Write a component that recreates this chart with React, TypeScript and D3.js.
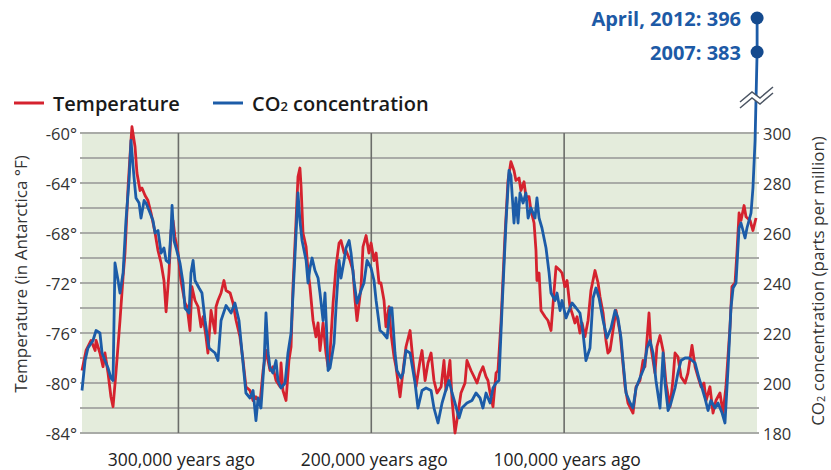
import React from "react";
import * as d3 from "d3";

// thousands of years ago, temperature (°F, Antarctica)
const tempKyr = [350.0,347.9,345.3,343.2,342.7,340.7,339.1,338.1,336.5,335.0,333.9,332.4,330.3,328.7,327.7,326.1,324.6,324.1,322.5,321.5,319.9,318.9,317.3,315.8,314.2,312.1,310.6,309.0,307.5,306.4,304.9,303.8,302.8,301.8,300.2,298.7,296.6,295.5,294.0,293.0,291.4,289.8,288.3,287.2,285.7,284.7,283.1,281.0,280.5,279.5,277.9,276.4,275.3,273.2,271.7,270.1,268.1,266.5,265.0,262.9,261.3,259.8,257.7,256.1,254.6,252.5,251.0,249.4,247.3,246.8,245.8,244.2,242.7,241.6,240.6,239.0,238.0,237.0,236.4,235.4,233.8,232.8,231.8,230.2,228.7,227.6,226.6,225.0,223.5,222.4,221.4,219.8,218.3,216.7,215.7,214.1,213.1,211.0,209.5,208.4,207.4,205.3,204.3,202.7,201.2,200.1,198.6,197.5,196.0,195.0,193.4,192.4,190.8,189.8,188.2,187.2,185.1,183.5,182.0,179.9,178.4,176.8,174.7,173.7,172.1,170.6,169.0,167.5,165.9,163.8,162.3,161.3,159.2,158.1,156.6,155.0,153.5,151.4,150.4,148.3,146.7,145.2,143.6,142.1,140.5,139.5,138.4,136.9,135.3,134.3,132.7,130.7,129.1,127.6,126.0,125.0,123.4,122.4,120.8,119.8,118.2,117.2,115.6,114.6,114.1,113.0,112.0,109.9,108.4,106.8,105.3,104.2,102.1,101.1,99.6,98.5,97.0,95.9,94.4,93.3,91.8,90.7,89.2,87.6,86.1,84.0,82.4,81.4,79.8,78.3,77.3,76.2,74.1,73.1,71.0,70.0,68.4,66.9,64.3,62.7,60.7,59.1,58.1,56.0,55.0,52.9,51.9,50.3,48.7,47.2,45.1,43.6,42.5,41.0,39.4,37.3,35.8,33.7,32.1,30.6,29.0,27.5,26.4,24.4,22.8,21.3,19.2,17.6,16.1,14.0,13.0,11.4,10.4,9.3,8.3,6.7,5.7,3.6,2.1,0.5];
const tempVal = [-79.0,-77.4,-76.6,-77.4,-76.6,-77.6,-78.7,-77.6,-79.2,-81.1,-81.9,-79.2,-75.0,-71.5,-69.6,-64.3,-60.6,-59.5,-61.1,-63.2,-64.6,-64.4,-65.0,-65.4,-66.4,-68.0,-69.4,-70.4,-71.8,-74.3,-71.2,-67.8,-67.0,-68.3,-69.6,-71.8,-73.6,-73.9,-75.8,-72.3,-73.4,-73.9,-75.5,-74.7,-76.3,-77.6,-74.2,-76.0,-73.9,-73.4,-72.8,-71.8,-72.6,-72.8,-73.6,-75.0,-76.3,-78.2,-80.3,-80.6,-81.4,-81.1,-81.6,-79.0,-77.4,-79.0,-78.7,-79.8,-80.3,-78.4,-80.6,-81.4,-78.2,-77.1,-72.3,-67.0,-63.5,-62.8,-64.3,-68.0,-69.1,-71.0,-72.3,-75.0,-76.3,-75.2,-77.4,-75.2,-77.6,-78.7,-77.6,-73.6,-70.7,-68.8,-68.6,-69.6,-69.4,-70.2,-71.0,-73.4,-75.0,-72.3,-69.1,-68.2,-69.6,-68.8,-70.2,-69.6,-72.0,-72.0,-73.4,-75.5,-73.9,-76.0,-77.9,-78.7,-81.1,-79.0,-77.1,-75.8,-78.2,-80.3,-78.2,-77.4,-79.8,-78.4,-77.6,-79.8,-80.8,-80.3,-78.2,-80.6,-78.2,-81.4,-84.0,-82.4,-80.8,-80.0,-78.2,-79.0,-79.5,-80.0,-79.2,-78.7,-79.5,-79.8,-80.8,-81.9,-79.2,-79.0,-75.0,-68.3,-63.8,-62.3,-63.0,-63.8,-63.6,-64.6,-63.9,-65.1,-65.1,-66.2,-67.2,-69.4,-71.8,-71.2,-74.2,-74.7,-75.0,-75.8,-72.8,-70.7,-71.0,-71.2,-72.3,-71.8,-73.9,-74.4,-75.2,-74.7,-76.0,-75.2,-76.3,-75.0,-72.6,-71.0,-72.0,-73.1,-74.4,-76.6,-77.6,-77.4,-75.2,-74.2,-76.0,-77.6,-80.3,-81.6,-82.4,-80.3,-79.8,-78.2,-78.7,-74.4,-77.1,-79.2,-77.1,-76.2,-77.4,-80.0,-81.9,-79.8,-77.6,-77.9,-79.5,-80.0,-79.2,-77.0,-78.7,-79.5,-80.3,-80.0,-81.4,-80.3,-82.4,-81.4,-80.8,-82.4,-80.3,-75.5,-72.3,-72.0,-69.6,-66.4,-67.0,-65.8,-66.7,-67.0,-67.8,-66.8];

// thousands of years ago, CO2 (ppm)
const co2Kyr = [350.0,348.4,346.9,344.3,342.7,340.7,339.6,338.1,336.5,335.0,333.9,332.9,331.3,330.3,328.7,327.2,325.6,324.6,323.0,322.0,320.4,319.4,317.8,316.8,314.7,313.2,312.1,310.6,309.0,307.5,306.4,304.9,303.8,303.3,302.3,301.2,299.2,297.6,296.6,294.5,293.5,292.4,291.4,289.3,287.8,286.2,284.1,282.6,281.0,279.5,277.9,275.3,272.7,270.7,268.6,267.0,265.0,262.9,261.3,259.8,258.7,257.2,255.6,254.6,253.5,252.5,251.0,249.4,248.4,246.8,244.7,243.2,241.6,239.5,238.0,237.0,235.9,233.8,232.8,231.8,230.7,229.2,227.6,226.6,225.0,224.0,223.0,222.4,221.4,219.3,218.3,216.7,215.7,214.1,213.1,211.5,210.5,209.0,207.4,205.3,203.8,202.2,200.1,198.6,197.5,195.5,193.9,191.8,190.3,189.3,187.7,186.7,184.6,183.5,182.0,179.9,177.3,175.8,173.7,171.6,169.0,167.5,165.4,163.3,161.8,159.7,158.1,156.6,154.5,153.0,150.4,147.8,145.7,143.6,142.1,140.5,139.5,138.4,136.9,135.3,133.8,132.2,130.1,128.6,127.6,126.0,125.0,123.9,122.9,121.3,119.8,118.7,117.2,115.1,114.1,113.0,111.5,109.4,107.8,106.8,104.7,103.7,102.1,101.1,99.0,97.5,95.9,93.8,91.8,90.2,88.7,86.6,85.0,83.5,81.9,79.8,77.8,75.7,73.6,72.1,70.5,69.5,67.9,65.8,64.3,62.7,60.7,58.6,57.0,55.5,53.9,52.4,50.3,48.7,47.7,46.1,44.6,42.5,41.0,39.4,37.3,35.3,33.7,32.1,30.1,28.5,27.0,25.4,23.9,21.8,20.2,18.1,16.6,15.0,13.5,12.4,10.9,9.3,8.3,6.2,5.2,3.1,2.1,1.0,-0.057,-0.062];
const co2Val = [197,209,214,217,221,220,212,209,206,202,201,248,241,236,244,265,281,297,282,274,272,266,273,272,268,265,260,261,252,254,249,248,262,271,257,254,248,240,230,228,244,249,241,238,236,225,214,213,212,209,225,231,228,232,225,212,196,194,197,185,194,190,208,228,212,206,204,209,201,198,200,212,220,252,276,265,257,249,240,246,250,245,242,236,225,236,218,205,206,216,230,249,242,249,254,257,252,241,232,237,240,249,246,241,233,221,220,218,230,230,212,205,202,204,213,212,200,190,197,198,197,190,184,192,196,201,196,192,186,190,192,193,196,194,190,196,194,192,198,200,201,230,265,285,283,264,274,264,276,272,276,266,270,266,274,266,262,254,244,236,233,236,229,233,226,229,232,230,228,220,209,214,234,238,234,225,218,222,229,226,218,209,196,192,190,198,202,206,214,217,212,201,190,212,200,189,192,198,204,209,210,210,209,208,202,198,194,189,193,190,192,188,184,206,230,238,240,262,264,258,262,268,278,297,383,396];

const tempTicks = [-60, -64, -68, -72, -76, -80, -84];
const co2Ticks = [300, 280, 260, 240, 220, 200, 180];
const eraTicks = [300, 200, 100];
const eraLabels = ["300,000 years ago", "200,000 years ago", "100,000 years ago"];
const modernLabels = ["2007: 383", "April, 2012: 396"];
const modernVals = [383, 396];

const RED = "#d5222e";
const BLUE = "#1c5ca8";
const FONT = "'Open Sans', 'Noto Sans', sans-serif";

export default function App() {
  const W = 831, H = 470;
  const x0 = 82, x1 = 757, yTop = 133, yBot = 433;
  const x = d3.scaleLinear().domain([350, 0]).range([x0, x1]);
  const yT = d3.scaleLinear().domain([-84, -60]).range([yBot, yTop]);
  const yC = d3.scaleLinear().domain([180, 300, 383, 396]).range([yBot, yTop, 52, 18]);
  const gridVals = d3.range(-84, -59, 2);

  const tLine = d3.line<number>().x((_, i) => x(tempKyr[i])).y((d) => yT(d));
  const cLine = d3.line<number>().x((_, i) => x(co2Kyr[i])).y((d) => yC(d));

  const breakY = 96;
  const zig = (dy: number) =>
    `M740,${breakY + 6 + dy} L752,${breakY - 4 + dy} L760,${breakY + 2 + dy} L773,${breakY - 9 + dy}`;

  return (
    <svg width={W} height={H} style={{ display: "block", position: "absolute", left: 0, top: 0 }} fontFamily={FONT}>
      <rect x={0} y={0} width={W} height={H} fill="#fff" />
      <rect x={x0} y={yTop} width={x1 - x0} height={yBot - yTop} fill="#e4ecdc" />
      {gridVals.map((v) => (
        <line key={v} x1={x0 - 2} x2={x1 + 2} y1={yT(v)} y2={yT(v)} stroke="#a9aba7" strokeWidth={1.8} />
      ))}
      {eraTicks.map((k) => (
        <line key={k} x1={x(k)} x2={x(k)} y1={yTop} y2={yBot} stroke="#6b6d6a" strokeWidth={1.6} />
      ))}
      {tempTicks.map((v) => (
        <text key={v} x={77} y={yT(v)} textAnchor="end" dominantBaseline="central" fontSize={16.5} fill="#333">
          {v}°
        </text>
      ))}
      {co2Ticks.map((v) => (
        <text key={v} x={763} y={yC(v)} textAnchor="start" dominantBaseline="central" fontSize={16.5} fill="#333">
          {v}
        </text>
      ))}
      <text transform={`translate(20,274) rotate(-90)`} textAnchor="middle" dominantBaseline="central" fontSize={17} fill="#333">
        Temperature (in Antarctica °F)
      </text>
      <text transform={`translate(817,281) rotate(-90)`} textAnchor="middle" dominantBaseline="central" fontSize={17} fill="#333">
        CO<tspan fontSize={11} dy={3}>2</tspan><tspan dy={-3}> concentration (parts per million)</tspan>
      </text>
      {eraTicks.map((k, i) => (
        <text key={k} x={x(k) + 3} y={459} textAnchor="middle" dominantBaseline="central" fontSize={17.5} fill="#222">
          {eraLabels[i]}
        </text>
      ))}
      <path d={tLine(tempVal) || ""} fill="none" stroke={RED} strokeWidth={2.8} strokeLinejoin="round" />
      <path d={cLine(co2Val) || ""} fill="none" stroke={BLUE} strokeWidth={2.8} strokeLinejoin="round" />
      {/* axis break */}
      <path d={`${zig(0)} L773,${breakY - 3} L760,${breakY + 8} L752,${breakY + 2} L740,${breakY + 12} Z`} fill="#fff" stroke="none" />
      <path d={zig(0)} fill="none" stroke="#4c5563" strokeWidth={1.5} />
      <path d={zig(6)} fill="none" stroke="#4c5563" strokeWidth={1.5} />
      {modernVals.map((v, i) => (
        <g key={v}>
          <circle cx={x(co2Kyr[co2Kyr.length - 2 + i])} cy={yC(v)} r={6.5} fill="#144a8e" />
          <text x={741} y={yC(v)} textAnchor="end" dominantBaseline="central" fontSize={20} fontWeight={700} fill="#1d5aa6">
            {modernLabels[i]}
          </text>
        </g>
      ))}
      {/* legend */}
      <line x1={14} x2={44} y1={103} y2={103} stroke={RED} strokeWidth={3} />
      <text x={53} y={103} dominantBaseline="central" fontSize={20} fontWeight={600} fill="#1a1a1a">Temperature</text>
      <line x1={213} x2={243} y1={103} y2={103} stroke={BLUE} strokeWidth={3} />
      <text x={252} y={103} dominantBaseline="central" fontSize={20} fontWeight={600} fill="#1a1a1a">
        CO<tspan fontSize={13} dy={3}>2</tspan><tspan dy={-3}> concentration</tspan>
      </text>
    </svg>
  );
}
